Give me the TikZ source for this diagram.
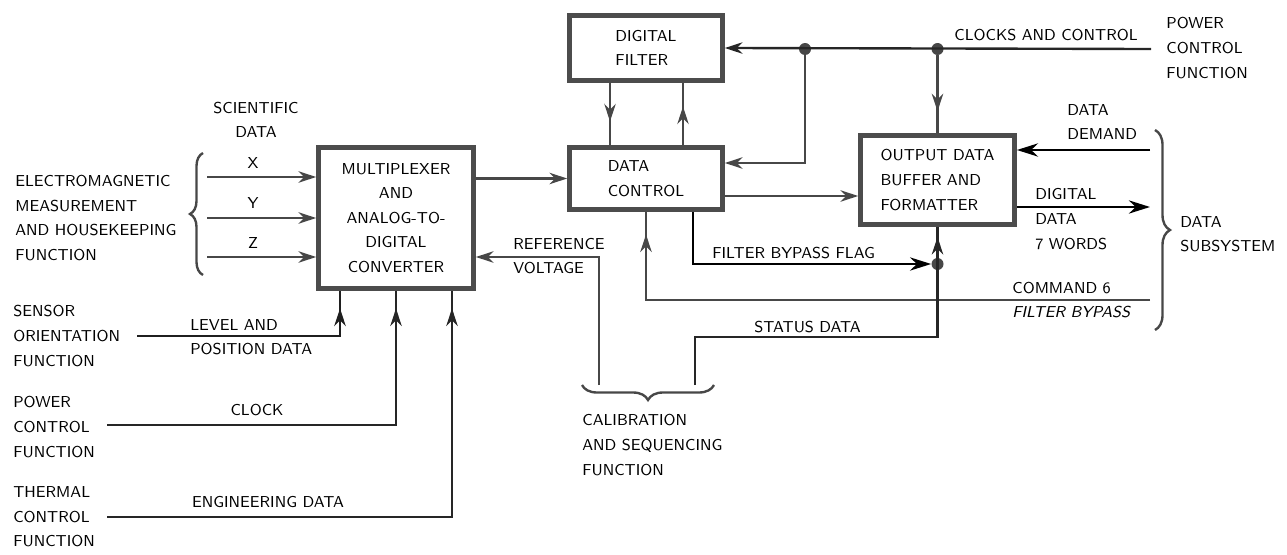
\documentclass[tikz,border=0pt]{standalone}
\usetikzlibrary{positioning}
\usetikzlibrary{calc}
\usetikzlibrary{arrows.meta}
\usetikzlibrary{decorations.pathreplacing}
\usetikzlibrary{decorations.markings}
\newcommand{\lblfont}{\sffamily\fontsize{9}{14}\selectfont}

\begin{document}
\begin{tikzpicture}[x=0.02cm, y=-0.02cm,
    box/.style={draw=black!70, line width=3pt, inner sep=0pt, font=\lblfont, align=left},
    wire/.style={draw=black!72, line width=1.35pt},
    fwd/.style={wire, -{Stealth[length=10pt, width=6.5pt]}},
    boldfwd/.style={draw=black, line width=1.7pt, -{Stealth[length=12pt, width=7.5pt]}},
    midfwd/.style={wire, postaction={decorate}, decoration={markings, mark=at position #1 with {\arrow{Stealth[length=10pt, width=6.5pt]}}}},
    joint/.style={circle, fill=black!72, inner sep=0pt, minimum size=0.24cm},
    lbl/.style={font=\lblfont, align=left, inner sep=0pt},
    brc/.style={draw=black!72, line width=1.35pt, decorate, decoration={brace, amplitude=#1}}]
  \useasboundingbox (0,0) rectangle (1287,554);

  \node[box, align=center, minimum width=3.09cm, minimum height=2.81cm] (mux) at (396,218) {MULTIPLEXER\\AND\\ANALOG-TO-\\DIGITAL\\CONVERTER};
  \node[box, minimum width=3.05cm, minimum height=1.29cm] (df) at (646,48) {DIGITAL\\FILTER};
  \node[box, minimum width=3.05cm, minimum height=1.23cm] (dc) at (646,178.5) {DATA\\CONTROL};
  \node[box, minimum width=3.07cm, minimum height=1.77cm] (buf) at (937.5,180) {OUTPUT DATA\\BUFFER AND\\FORMATTER};

  \node[joint] (j1) at (805,49) {};
  \node[joint] (j2) at (937.5,49) {};
  \node[joint] (j3) at (937.5,264) {};

  \coordinate (xin) at (207,177);
  \coordinate (yin) at (207,218);
  \coordinate (zin) at (207,257);
  \coordinate (lvl) at (137,336);
  \coordinate (clk) at (107,425);
  \coordinate (eng) at (107,517);
  \coordinate (pcf) at (1151,49);
  \coordinate (ddin) at (1150,150);
  \coordinate (ddout) at (1150,207);
  \coordinate (cmd) at (1150,300);
  \coordinate (rv) at (599,385);
  \coordinate (st) at (695,385);
  \coordinate (stb) at (937.5,337);
  \coordinate (dcout) at ([yshift=-0.35cm]dc.east);

  % inputs to the multiplexer
  \draw[fwd] (xin) -- (xin -| mux.west);
  \draw[fwd] (yin) -- (yin -| mux.west);
  \draw[fwd] (zin) -- (zin -| mux.west);
  \draw[midfwd=-0.35cm, draw=black!88, line width=1.6pt] (lvl) -| ([xshift=-1.12cm]mux.south);
  \draw[midfwd=-0.35cm, draw=black!85] (clk) -| (mux.south);
  \draw[midfwd=-0.35cm, draw=black!85] (eng) -| ([xshift=1.12cm]mux.south);
  \draw[fwd] (rv) |- (zin -| mux.east);

  \draw[fwd] (dc.west -| mux.east) -- (dc.west);
  \draw[midfwd=0.62] ([xshift=-0.72cm]df.south) -- ([xshift=-0.72cm]dc.north);
  \draw[midfwd=0.62] ([xshift=0.74cm]dc.north) -- ([xshift=0.74cm]df.south);
  \draw[fwd, draw=black!85] (pcf) -- (df.east);
  \draw[fwd] (j1) |- ([yshift=0.31cm]dc.east);
  \draw[midfwd=0.72] (j2) -- (j2 |- buf.north);
  \draw[fwd] (dcout) -- (dcout -| buf.west);
  \draw[boldfwd] (ddin) -- (ddin -| buf.east);
  \draw[boldfwd] (ddout -| buf.east) -- (ddout);
  \draw[boldfwd] ([xshift=0.94cm]dc.south) |- (j3);
  \draw[midfwd=-0.45cm] (cmd) -| (dc.south);
  \draw[midfwd=-0.2cm, draw=black!85] (st) |- (stb) -- (buf.south);

  \draw[brc=0.26cm] (203,275) -- (203,153);
  \draw[brc=0.3cm] (1155,130) -- (1155,330);
  \draw[brc=0.3cm] (714,385) -- (582,385);

  \node[lbl, align=center] (sci) at (256,120) {SCIENTIFIC\\DATA};
  \node[lbl] (xl) at (253,163) {X};
  \node[lbl] (yl) at (253,203) {Y};
  \node[lbl] (zl) at (253,243) {Z};
  \node[lbl, anchor=west] (emf) at (15,218) {ELECTROMAGNETIC\\MEASUREMENT\\AND HOUSEKEEPING\\FUNCTION};
  \node[lbl, anchor=west] (sof) at (13,336) {SENSOR\\ORIENTATION\\FUNCTION};
  \node[lbl, anchor=west] (lpd) at (190,337) {LEVEL AND\\POSITION DATA};
  \node[lbl, anchor=west] (pcfl) at (13,427) {POWER\\CONTROL\\FUNCTION};
  \node[lbl] (clkl) at (257,410) {CLOCK};
  \node[lbl, anchor=west] (tcf) at (13,517) {THERMAL\\CONTROL\\FUNCTION};
  \node[lbl] (engl) at (268,502) {ENGINEERING DATA};
  \node[lbl, anchor=west] (rvl) at (513,256) {REFERENCE\\VOLTAGE};
  \node[lbl, anchor=west] (csf) at (582,445) {CALIBRATION\\AND SEQUENCING\\FUNCTION};
  \node[lbl, anchor=west] (ccl) at (954,35) {CLOCKS AND CONTROL};
  \node[lbl, anchor=west] (pcft) at (1166,48) {POWER\\CONTROL\\FUNCTION};
  \node[lbl, anchor=west] (ddl) at (1067,122) {DATA\\DEMAND};
  \node[lbl, anchor=west] (dwl) at (1035,219) {DIGITAL\\DATA\\7 WORDS};
  \node[lbl, anchor=west] (dsl) at (1180,234) {DATA\\SUBSYSTEM};
  \node[lbl, anchor=west] (fbf) at (712,253) {FILTER BYPASS FLAG};
  \node[lbl, anchor=west] (c6l) at (1012,300) {COMMAND 6\\\textit{FILTER BYPASS}};
  \node[lbl, anchor=west] (sdl) at (754,327) {STATUS DATA};
\end{tikzpicture}
\end{document}
